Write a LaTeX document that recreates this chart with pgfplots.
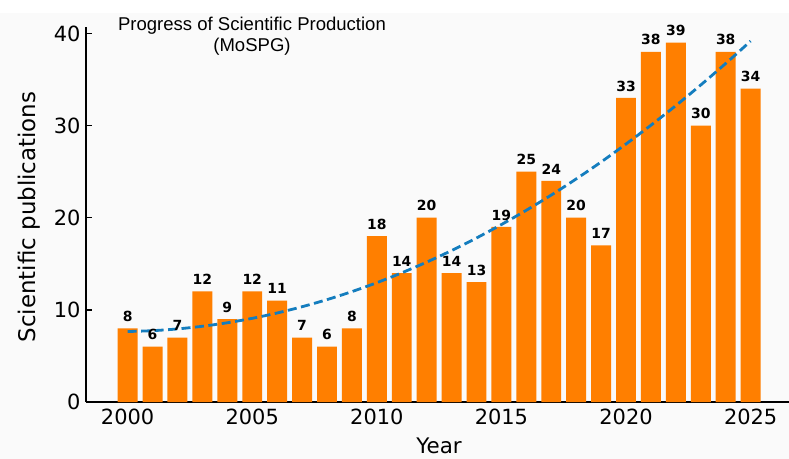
\documentclass[border=0pt]{standalone}
\usepackage{pgfplots}
\pgfplotsset{compat=1.18}
\usepackage{fontspec}
\setmainfont{DejaVu Sans}
\newfontfamily\titlefont{Liberation Sans}
\definecolor{barorange}{RGB}{255,127,0}
\definecolor{trendblue}{RGB}{20,125,190}
\definecolor{bgc}{RGB}{250,250,250}
\begin{document}
\begin{tikzpicture}
\path[use as bounding box] (-86bp,-57bp) rectangle (703bp,402bp);
\fill[bgc] (-86bp,-57bp) rectangle (703bp,389bp);
\begin{axis}[
  at={(0,0)}, anchor=south west,
  width=703bp, height=375bp, scale only axis,
  xmin=1998.33, xmax=2026.54, ymin=0, ymax=40.7,
  axis x line*=bottom, axis y line*=left,
  axis line style={line width=1.8bp, -},
  xtick={2000,2005,2010,2015,2020,2025},
  ytick={0,10,20,30,40},
  xtick pos=bottom, ytick pos=left,
  tick align=inside,
  major tick length=6bp,
  tick style={line width=1.5bp, black},
  /pgf/number format/assume math mode=true,
  /pgf/number format/1000 sep={},
  tick label style={font=\fontsize{21}{24}\selectfont},
  xticklabel style={yshift=-3bp},
  yticklabel style={xshift=-2bp},
  clip=false,
]
\addplot[ybar, bar width=0.8, fill=barorange, draw=none,
  nodes near coords={\pgfmathprintnumber[assume math mode=true]{\pgfplotspointmeta}},
  every node near coord/.style={font=\bfseries\fontsize{14}{15}\selectfont, black, anchor=south, inner sep=0pt, yshift=6.5bp}]
coordinates {
(2000,8) (2001,6) (2002,7) (2003,12) (2004,9) (2005,12) (2006,11) (2007,7) (2008,6) (2009,8)
(2010,18) (2011,14) (2012,20) (2013,14) (2014,13) (2015,19) (2016,25) (2017,24) (2018,20) (2019,17)
(2020,33) (2021,38) (2022,39) (2023,30) (2024,38) (2025,34)
};
\addplot[trendblue, line width=2.8bp, dash pattern=on 9bp off 4.5bp, smooth, no marks]
coordinates {
(2000,7.65) (2001,7.74) (2002,7.93) (2003,8.22) (2004,8.60) (2005,9.08) (2006,9.66) (2007,10.34)
(2008,11.11) (2009,11.98) (2010,12.95) (2011,14.02) (2012,15.18) (2013,16.44) (2014,17.80)
(2015,19.26) (2016,20.81) (2017,22.46) (2018,24.21) (2019,26.05) (2020,28.00) (2021,30.04)
(2022,32.17) (2023,34.41) (2024,36.74) (2025,39.17)
};
\end{axis}
\node[font=\titlefont\fontsize{18.6}{21}\selectfont, align=center] at (166bp,366bp) {Progress of Scientific Production\\(MoSPG)};
\node[font=\fontsize{21.5}{24}\selectfont] at (353bp,-44bp) {Year};
\node[font=\fontsize{23}{26}\selectfont, rotate=90] at (-57bp,185bp) {Scientific publications};
\end{tikzpicture}
\end{document}
